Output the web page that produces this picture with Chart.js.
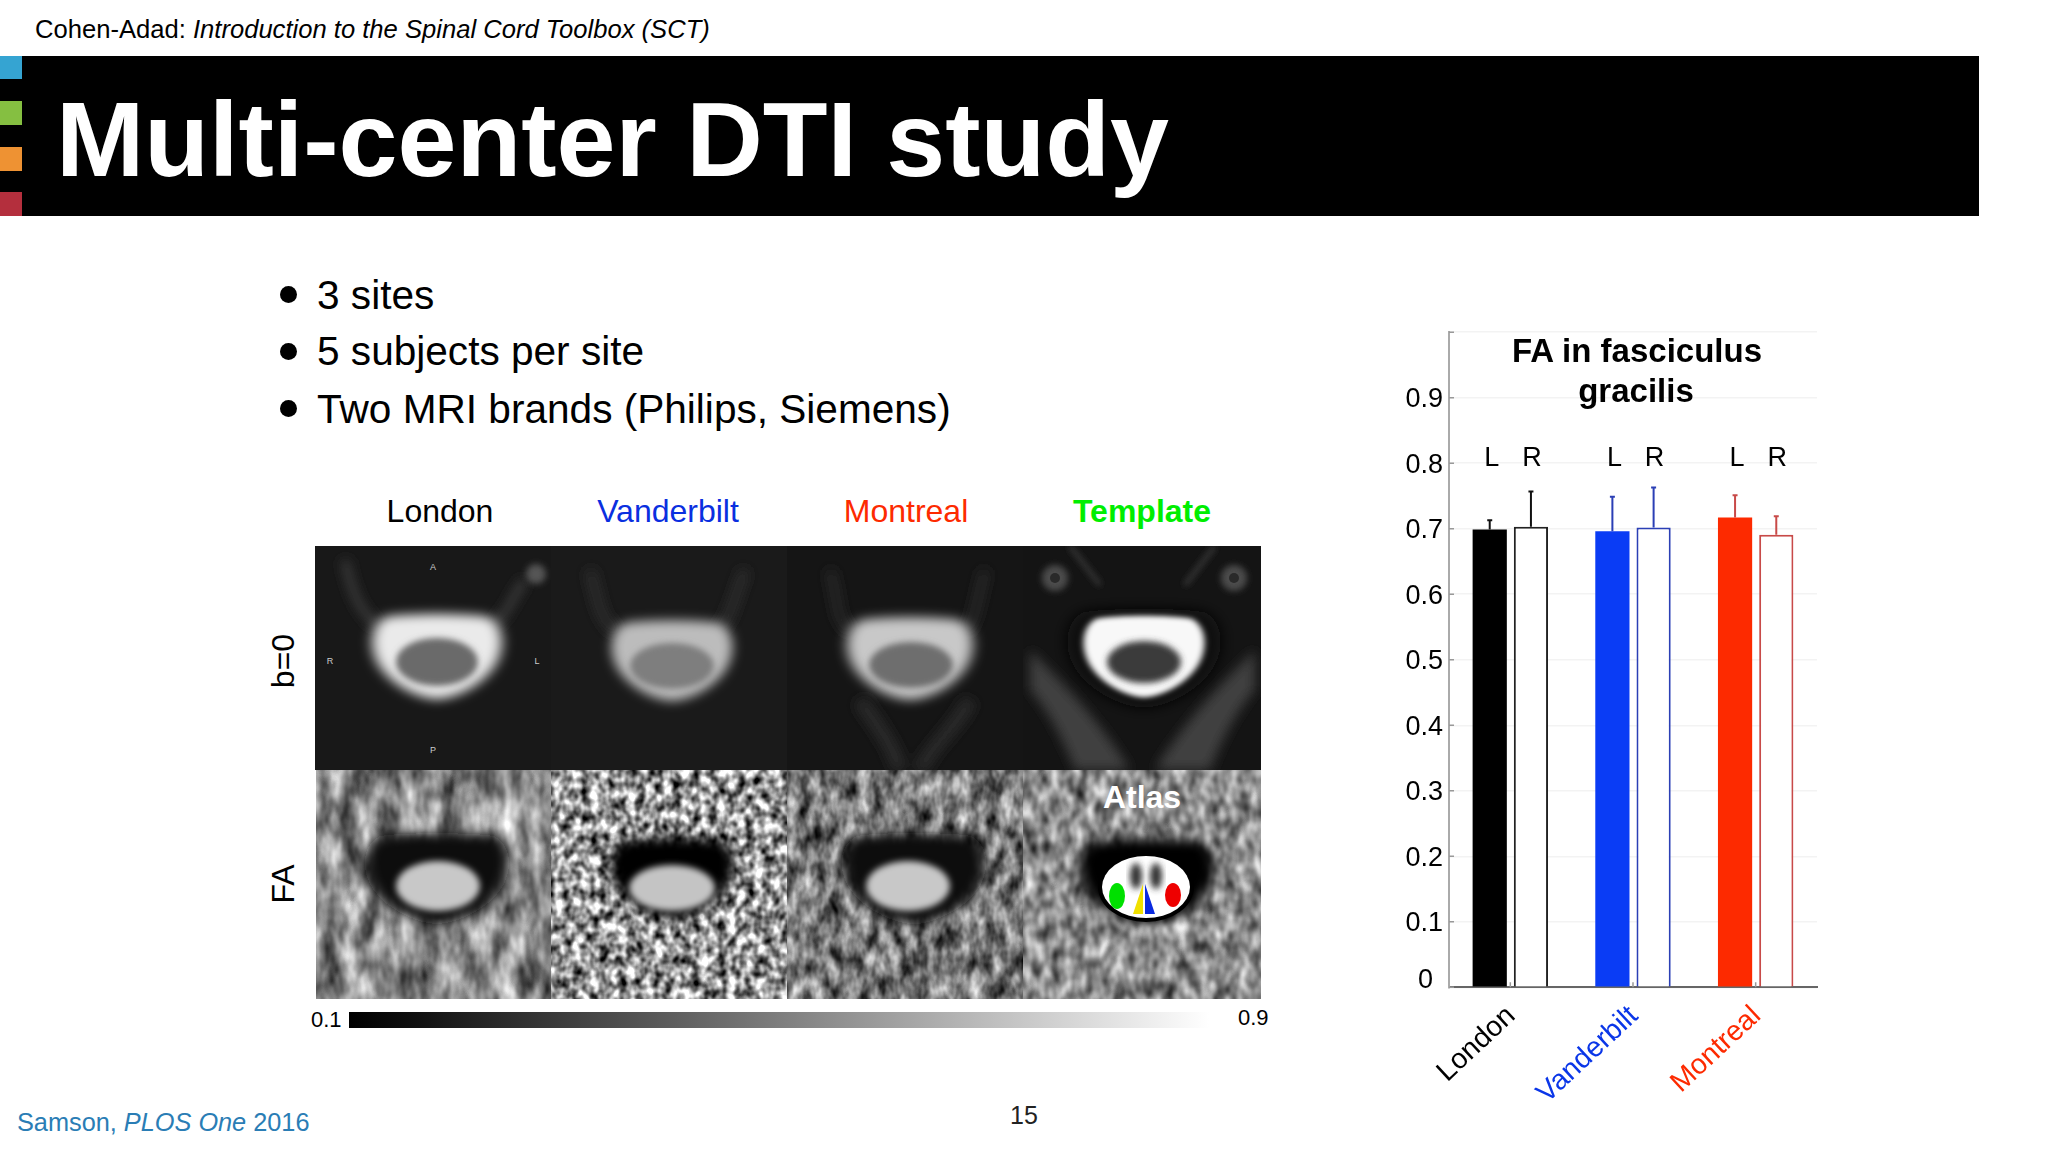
<!DOCTYPE html>
<html>
<head>
<meta charset="utf-8">
<title>Multi-center DTI study</title>
<script src="https://cdn.jsdelivr.net/npm/chart.js@4"></script>
<style>
  html, body { margin: 0; padding: 0; background: #fff; }
  body { width: 2048px; height: 1152px; position: relative; overflow: hidden; font-family: "Liberation Sans", sans-serif; color: #000; }
  .t { position: absolute; white-space: nowrap; line-height: 1; }
  .mid { transform: translateX(-50%); }
  .rot { transform: translate(-50%, -50%) rotate(-90deg); }
  .tag { position: absolute; left: 0; width: 22px; }
  .dot { position: absolute; left: 280px; width: 17px; height: 17px; border-radius: 50%; background: #000; }
  #band { position: absolute; left: 0; top: 56px; width: 1979px; height: 160px; background: #000; }
  #art { position: absolute; left: 0; top: 0; }
  #bar { position: absolute; left: 349px; top: 1012px; width: 860px; height: 16px; background: linear-gradient(90deg, #000 0%, #111 8%, #fff 100%); }
  #box { position: absolute; left: 1380px; top: 310px; width: 460px; height: 830px; }
</style>
</head>
<body>
<div class="t" style="left:35px;top:17px;font-size:25.6px">Cohen-Adad: <i>Introduction to the Spinal Cord Toolbox (SCT)</i></div>
<div id="band"></div>
<div class="tag" style="top:56px;height:23px;background:#35a4d2"></div>
<div class="tag" style="top:101px;height:24px;background:#85bf41"></div>
<div class="tag" style="top:147px;height:24px;background:#ee9233"></div>
<div class="tag" style="top:192px;height:24px;background:#b42f3d"></div>
<div class="t" style="left:56px;top:86px;font-size:106px;font-weight:bold;color:#fff">Multi-center DTI study</div>

<div class="dot" style="top:286px"></div>
<div class="dot" style="top:343px"></div>
<div class="dot" style="top:400px"></div>
<div class="t" style="left:317px;top:275px;font-size:40.6px">3 sites</div>
<div class="t" style="left:317px;top:331px;font-size:40.6px">5 subjects per site</div>
<div class="t" style="left:317px;top:389px;font-size:40.6px">Two MRI brands (Philips, Siemens)</div>

<!-- images de coupes, dessinees a la main -->
<svg id="art" width="2048" height="1152" xmlns="http://www.w3.org/2000/svg">
  <defs>
    <filter id="b3" x="-30%" y="-30%" width="160%" height="160%"><feGaussianBlur stdDeviation="3"/></filter>
    <filter id="b6" x="-30%" y="-30%" width="160%" height="160%"><feGaussianBlur stdDeviation="6"/></filter>
    <filter id="n1" x="0" y="0" width="100%" height="100%" color-interpolation-filters="sRGB">
      <feTurbulence type="fractalNoise" baseFrequency="0.05 0.025" numOctaves="3" seed="3"/>
      <feColorMatrix values="1.2 0 0 0 -0.04  1.2 0 0 0 -0.04  1.2 0 0 0 -0.04  0 0 0 0 1"/>
    </filter>
    <filter id="n2" x="0" y="0" width="100%" height="100%" color-interpolation-filters="sRGB">
      <feTurbulence type="fractalNoise" baseFrequency="0.11 0.09" numOctaves="2" seed="8"/>
      <feColorMatrix values="1.9 0 0 0 -0.36  1.9 0 0 0 -0.36  1.9 0 0 0 -0.36  0 0 0 0 1"/>
    </filter>
    <filter id="n3" x="0" y="0" width="100%" height="100%" color-interpolation-filters="sRGB">
      <feTurbulence type="fractalNoise" baseFrequency="0.07 0.04" numOctaves="3" seed="14"/>
      <feColorMatrix values="1.35 0 0 0 -0.2  1.35 0 0 0 -0.2  1.35 0 0 0 -0.2  0 0 0 0 1"/>
    </filter>
    <filter id="n4" x="0" y="0" width="100%" height="100%" color-interpolation-filters="sRGB">
      <feTurbulence type="fractalNoise" baseFrequency="0.08 0.05" numOctaves="2" seed="21"/>
      <feColorMatrix values="1.1 0 0 0 0.0  1.1 0 0 0 0.0  1.1 0 0 0 0.0  0 0 0 0 1"/>
    </filter>
    <path id="cord" d="M-48,-46 C-25,-50 25,-50 48,-46 C60,-40 66,-20 58,2 C50,24 24,44 0,46 C-24,44 -50,24 -58,2 C-66,-20 -60,-40 -48,-46 Z"/>
    <clipPath id="c1"><rect x="315" y="546" width="236" height="224"/></clipPath>
    <clipPath id="c2"><rect x="551" y="546" width="236" height="224"/></clipPath>
    <clipPath id="c3"><rect x="787" y="546" width="236" height="224"/></clipPath>
    <clipPath id="c4"><rect x="1023" y="546" width="238" height="224"/></clipPath>
  </defs>

  <!-- b=0 -->
  <rect x="315" y="546" width="236" height="224" fill="#181818"/>
  <rect x="551" y="546" width="236" height="224" fill="#1a1a1a"/>
  <rect x="787" y="546" width="236" height="224" fill="#151515"/>
  <rect x="1023" y="546" width="238" height="224" fill="#141414"/>
  <g clip-path="url(#c1)">
    <path d="M345,560 C352,595 360,610 376,625 M525,580 C510,600 510,610 494,625" stroke="#3c3c3c" stroke-width="8" fill="none" filter="url(#b6)"/>
    <circle cx="536" cy="574" r="10" fill="#555" filter="url(#b3)"/>
    <use href="#cord" transform="translate(437,658) scale(1.05,0.9)" fill="#eaeaea" filter="url(#b6)"/>
    <ellipse cx="437" cy="662" rx="41" ry="24" fill="#6a6a6a" filter="url(#b3)"/>
  </g>
  <g clip-path="url(#c2)">
    <path d="M590,570 C600,610 600,620 618,632 M745,570 C730,610 730,620 716,632" stroke="#2e2e2e" stroke-width="10" fill="none" filter="url(#b6)"/>
    <use href="#cord" transform="translate(672,662) scale(0.98,0.85)" fill="#bcbcbc" filter="url(#b6)"/>
    <ellipse cx="672" cy="666" rx="42" ry="23" fill="#7e7e7e" filter="url(#b3)"/>
  </g>
  <g clip-path="url(#c3)">
    <path d="M830,570 C840,610 835,620 852,632 M985,570 C975,610 975,620 966,632" stroke="#2a2a2a" stroke-width="9" fill="none" filter="url(#b6)"/>
    <path d="M900,770 C890,740 880,730 860,700 M920,770 C935,740 955,730 970,700" stroke="#2c2c2c" stroke-width="14" fill="none" filter="url(#b6)"/>
    <use href="#cord" transform="translate(910,660) scale(1.02,0.87)" fill="#c8c8c8" filter="url(#b6)"/>
    <ellipse cx="911" cy="665" rx="42" ry="23" fill="#6e6e6e" filter="url(#b3)"/>
  </g>
  <g clip-path="url(#c4)">
    <circle cx="1055" cy="578" r="13" fill="#4c4c4c" filter="url(#b3)"/>
    <circle cx="1055" cy="578" r="5" fill="#2a2a2a"/>
    <circle cx="1234" cy="578" r="13" fill="#4c4c4c" filter="url(#b3)"/>
    <circle cx="1234" cy="578" r="5" fill="#2a2a2a"/>
    <path d="M1070,546 L1100,585 M1215,546 L1185,585" stroke="#3c3c3c" stroke-width="4" fill="none" filter="url(#b3)"/>
    <path d="M1030,650 C1060,680 1100,720 1130,770 L1075,770 C1060,730 1040,700 1030,690 Z M1255,650 C1225,680 1185,720 1155,770 L1210,770 C1225,730 1245,700 1255,690 Z" fill="#404040" filter="url(#b6)"/>
    <use href="#cord" transform="translate(1144,660) scale(1.25,1.05)" fill="#080808" filter="url(#b6)"/>
    <use href="#cord" transform="translate(1144,658) scale(0.98,0.86)" fill="#f8f8f8" filter="url(#b3)"/>
    <ellipse cx="1144" cy="662" rx="37" ry="21" fill="#3b3b3b" filter="url(#b3)"/>
  </g>

  <!-- FA -->
  <rect x="316" y="770" width="235" height="229" filter="url(#n1)"/>
  <rect x="551" y="770" width="236" height="229" filter="url(#n2)"/>
  <rect x="787" y="770" width="236" height="229" filter="url(#n3)"/>
  <rect x="1023" y="770" width="238" height="229" filter="url(#n4)"/>

  <use href="#cord" transform="translate(437,880) scale(1.17,0.96)" fill="#0c0c0c" filter="url(#b6)"/>
  <ellipse cx="438" cy="886" rx="42" ry="25" fill="#c8c8c8" filter="url(#b3)"/>
  <use href="#cord" transform="translate(672,880) scale(1,0.86)" fill="#060606" filter="url(#b6)"/>
  <ellipse cx="672" cy="888" rx="43" ry="23" fill="#c4c4c4" filter="url(#b3)"/>
  <use href="#cord" transform="translate(914,880) scale(1.17,0.96)" fill="#101010" filter="url(#b6)"/>
  <ellipse cx="908" cy="886" rx="42" ry="25" fill="#c8c8c8" filter="url(#b3)"/>

  <use href="#cord" transform="translate(1147,883) scale(1.1,0.9)" fill="#060606" filter="url(#b6)"/>
  <ellipse cx="1146" cy="887" rx="48" ry="35" fill="#000"/>
  <ellipse cx="1146" cy="887" rx="44" ry="31" fill="#fff"/>
  <ellipse cx="1136" cy="876" rx="6" ry="13" fill="#333" filter="url(#b3)"/>
  <ellipse cx="1156" cy="876" rx="6" ry="13" fill="#333" filter="url(#b3)"/>
  <ellipse cx="1117" cy="896" rx="8" ry="13" fill="#00e000"/>
  <ellipse cx="1173" cy="895" rx="8" ry="12" fill="#ee0000"/>
  <path d="M1143,884 L1143,914 L1133,914 Z" fill="#f0e000"/>
  <path d="M1145,884 L1145,914 L1155,914 Z" fill="#0a2ae0"/>
</svg>

<div class="t mid" style="left:440px;top:495px;font-size:32px">London</div>
<div class="t mid" style="left:668px;top:495px;font-size:32px;color:#0a2fe0">Vanderbilt</div>
<div class="t mid" style="left:906px;top:495px;font-size:32px;color:#fd2a00">Montreal</div>
<div class="t mid" style="left:1142px;top:495px;font-size:32px;font-weight:bold;color:#00ee00">Template</div>
<div class="t rot" style="left:283px;top:661px;font-size:32px">b=0</div>
<div class="t rot" style="left:283px;top:884px;font-size:32px">FA</div>
<div class="t mid" style="left:433px;top:563px;font-size:9px;color:#ccc">A</div>
<div class="t mid" style="left:330px;top:657px;font-size:9px;color:#ccc">R</div>
<div class="t mid" style="left:537px;top:657px;font-size:9px;color:#ccc">L</div>
<div class="t mid" style="left:433px;top:746px;font-size:9px;color:#ccc">P</div>
<div class="t mid" style="left:1142px;top:781px;font-size:32px;font-weight:bold;color:#fff">Atlas</div>

<div id="bar"></div>
<div class="t" style="left:311px;top:1009px;font-size:22px">0.1</div>
<div class="t" style="left:1238px;top:1007px;font-size:22px">0.9</div>

<div class="t" style="left:17px;top:1110px;font-size:25.3px;color:#2a7db5">Samson, <i>PLOS One</i> 2016</div>
<div class="t mid" style="left:1024px;top:1103px;font-size:25px;color:#222">15</div>

<div id="box"><canvas id="grafica"></canvas></div>
<div class="t mid" style="left:1637px;top:334px;font-size:33px;font-weight:bold">FA in fasciculus</div>
<div class="t mid" style="left:1636px;top:374px;font-size:33px;font-weight:bold">gracilis</div>

<script>
// Sites et valeurs
const sites = ["London", "Vanderbilt", "Montreal"];
const sitesColor = ["#000000", "#0a36e8", "#fd2a00"];
const leftFA = [0.699, 0.696, 0.717];
const rightFA = [0.703, 0.702, 0.691];
const leftTop = [0.713, 0.749, 0.751];
const rightTop = [0.757, 0.763, 0.719];
const leftFill = ["#000000", "#0a3cf5", "#fd2a00"];
const rightLine = ["#222222", "#2b3fb5", "#c84a48"];
const errLine = ["#111111", "#2b3fb5", "#c84a48"];
const yTicks = ["0", "0.1", "0.2", "0.3", "0.4", "0.5", "0.6", "0.7", "0.8", "0.9", ""];

const FONT = "'Liberation Sans', sans-serif";

// Barres d'erreur, petits traits d'axe, lettres L / R
const extras = {
  id: "extras",
  afterDatasetsDraw(chart) {
    const { ctx, scales: { x, y } } = chart;
    ctx.save();
    // traits internes
    ctx.strokeStyle = "#999";
    ctx.lineWidth = 1.5;
    ctx.beginPath();
    yTicks.forEach((lab, i) => {
      const py = y.getPixelForTick(i);
      ctx.moveTo(x.left, py);
      ctx.lineTo(x.left + 5, py);
    });
    sites.forEach((s, i) => {
      const px = x.getPixelForTick(i);
      ctx.moveTo(px, y.bottom);
      ctx.lineTo(px, y.bottom - 5);
    });
    ctx.stroke();

    [leftTop, rightTop].forEach((tops, d) => {
      const meta = chart.getDatasetMeta(d);
      tops.forEach((v, i) => {
        const bar = meta.data[i];
        const py = y.getPixelForValue(v);
        ctx.strokeStyle = errLine[i];
        ctx.lineWidth = 2;
        ctx.beginPath();
        ctx.moveTo(bar.x, bar.y);
        ctx.lineTo(bar.x, py);
        ctx.moveTo(bar.x - 2.5, py);
        ctx.lineTo(bar.x + 2.5, py);
        ctx.stroke();
        // lettre au dessus de la barre
        ctx.fillStyle = "#000";
        ctx.font = "27px " + FONT;
        ctx.textAlign = "center";
        ctx.textBaseline = "alphabetic";
        ctx.fillText(d === 0 ? "L" : "R", bar.x + (d === 0 ? 2 : 1), y.getPixelForValue(0.795));
      });
    });
    // le 0 est decale dans la figure
    ctx.fillStyle = "#000";
    ctx.font = "27px " + FONT;
    ctx.textAlign = "right";
    ctx.textBaseline = "middle";
    ctx.fillText(yTicks[0], x.left - 16, y.bottom - 7);
    ctx.restore();
  }
};

new Chart(document.getElementById("grafica"), {
  type: "bar",
  data: {
    labels: sites,
    datasets: [
      { label: "L", data: leftFA, backgroundColor: leftFill, borderWidth: 0 },
      { label: "R", data: rightFA, backgroundColor: "#ffffff", borderColor: rightLine, borderWidth: 2 }
    ]
  },
  plugins: [extras],
  options: {
    responsive: true,
    maintainAspectRatio: false,
    animation: false,
    devicePixelRatio: 1,
    layout: { padding: { top: 19, right: 23, left: 0, bottom: 0 } },
    categoryPercentage: 0.672,
    barPercentage: 0.83,
    plugins: { legend: { display: false }, title: { display: false }, tooltip: { enabled: false } },
    scales: {
      x: {
        grid: { display: false, drawTicks: false },
        border: { color: "#666", width: 2 },
        afterFit(scale) { scale.height = 152.7; },
        ticks: {
          autoSkip: false,
          minRotation: 43,
          maxRotation: 43,
          padding: 12,
          labelOffset: 1,
          color: sitesColor,
          font: { size: 28.5, family: FONT }
        }
      },
      y: {
        min: 0,
        max: 1,
        grid: { color: "#f3f3f3", lineWidth: 1.5, drawTicks: false },
        border: { color: "#aaa", width: 2 },
        afterFit(scale) { scale.width = 69; },
        afterBuildTicks(scale) {
          scale.ticks = yTicks.map((lab, i) => ({ value: i / 10 }));
        },
        ticks: {
          padding: 6,
          labelOffset: 2,
          color: "#000",
          font: { size: 27, family: FONT },
          callback(value, i) { return i === 0 ? "" : yTicks[i]; }
        }
      }
    }
  }
});
</script>
</body>
</html>
